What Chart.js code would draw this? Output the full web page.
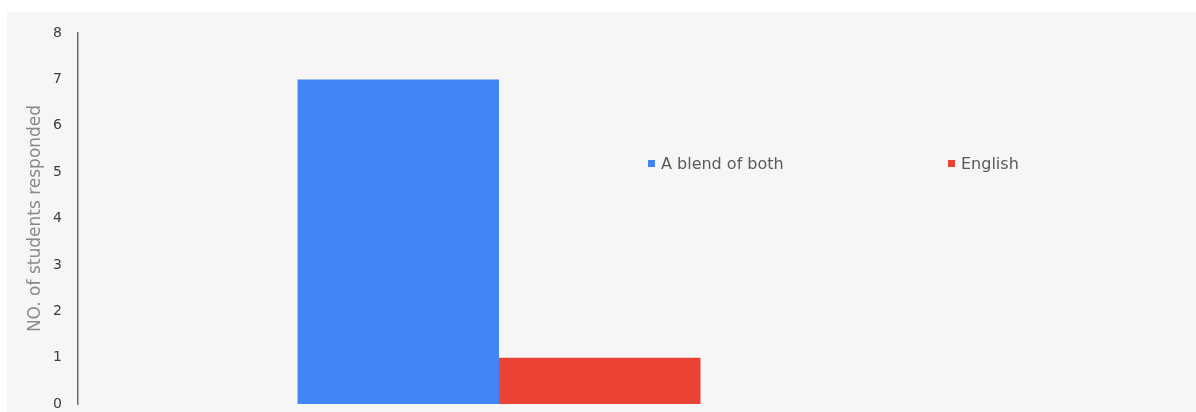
<!DOCTYPE html>
<html>
<head>
<meta charset="utf-8">
<script src="https://cdn.jsdelivr.net/npm/chart.js@4/dist/chart.umd.min.js"></script>
<style>
  html, body { margin: 0; padding: 0; background: #ffffff; }
  #wrap {
    position: absolute;
    left: 7px;
    top: 12px;
    width: 1189px;
    height: 400px;
    background: #f6f6f6;
  }
  #chart { display: block; }
  .legend-item {
    position: absolute;
    top: 141px;
    height: 20px;
    display: flex;
    align-items: center;
    font-family: "DejaVu Sans", sans-serif;
    font-size: 16px;
    color: #5a5a5a;
    white-space: nowrap;
  }
  .legend-item .swatch {
    width: 7px;
    height: 7px;
    margin-right: 6px;
  }
  #legend-0 { left: 641px; }
  #legend-1 { left: 941px; }
</style>
</head>
<body>
<div id="wrap">
  <canvas id="chart" width="1189" height="400"></canvas>
</div>
<script>
  // survey answers: preferred language of instruction
  const categories = [""];
  const seriesNames = ["A blend of both", "English"];
  const blendValues = [7];
  const englishValues = [1];
  const seriesColors = ["#4285f4", "#ea4335"];
  const yTicks = [0, 1, 2, 3, 4, 5, 6, 7, 8];

  const seriesValues = [blendValues, englishValues];

  const ctx = document.getElementById("chart").getContext("2d");

  new Chart(ctx, {
    type: "bar",
    data: {
      labels: categories,
      datasets: seriesNames.map((name, i) => ({
        label: name,
        data: seriesValues[i],
        backgroundColor: seriesColors[i],
        borderWidth: 0,
        categoryPercentage: 0.4786,
        barPercentage: 1,
      })),
    },
    options: {
      responsive: false,
      animation: false,
      layout: {
        padding: { left: 0, right: 276, top: 21, bottom: 8 },
      },
      plugins: {
        legend: { display: false },
        tooltip: { enabled: false },
      },
      scales: {
        x: {
          display: false,
        },
        y: {
          min: yTicks[0],
          max: yTicks[yTicks.length - 1],
          afterBuildTicks: (scale) => {
            scale.ticks = yTicks.map((v) => ({ value: v }));
          },
          afterFit: (scale) => {
            // fixed axis width; no extra room for the end labels
            scale.width = 71;
            scale.paddingTop = 0;
            scale.paddingBottom = 0;
          },
          grid: {
            display: false,
            drawTicks: false,
          },
          border: {
            display: true,
            color: "#6a6a6a",
            width: 1.5,
          },
          ticks: {
            padding: 16,
            color: "#3c3c3c",
            font: { family: "DejaVu Sans", size: 14 },
          },
          title: {
            display: true,
            text: "NO. of students responded",
            color: "#8a8a8a",
            padding: { top: 18, bottom: 0 },
            font: { family: "DejaVu Sans", size: 17 },
          },
        },
      },
    },
  });

  // legend items placed to the right of the bars
  const wrap = document.getElementById("wrap");
  seriesNames.forEach((name, i) => {
    const item = document.createElement("div");
    item.className = "legend-item";
    item.id = "legend-" + i;
    const swatch = document.createElement("span");
    swatch.className = "swatch";
    swatch.style.background = seriesColors[i];
    const text = document.createElement("span");
    text.textContent = name;
    item.appendChild(swatch);
    item.appendChild(text);
    wrap.appendChild(item);
  });
</script>
</body>
</html>
